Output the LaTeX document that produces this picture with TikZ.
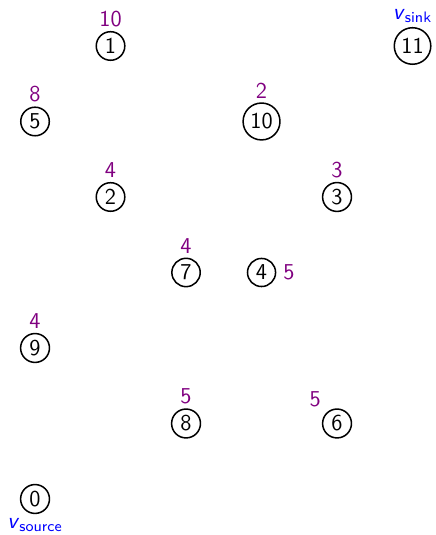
\documentclass[tikz,border=0pt]{standalone}
\renewcommand{\familydefault}{\sfdefault}
\usetikzlibrary{positioning}
\tikzset{
  vtx/.style={circle,draw,thick,inner sep=1.8pt,font=\large},
  wt/.style={text=violet,font=\large,inner sep=2pt},
  term/.style={text=blue,font=\large,inner sep=2pt}
}
\newcommand{\vname}[1]{\textit{v}\textsubscript{#1}}

\begin{document}
\begin{tikzpicture}[x=1.4cm,y=1.4cm]
  \useasboundingbox (-0.464,0.609) rectangle (5.305,-6.477);
  % top rows
  \node[vtx,label={[wt]above:10}] (n1) at (1,0) {1};
  \node[vtx,label={[term]above:\vname{sink}}] (n11) at (5,0) {11};
  \node[vtx,label={[wt]above:8}] (n5) at (0,-1) {5};
  \node[vtx,label={[wt]above:2}] (n10) at (3,-1) {10};
  \node[vtx,label={[wt]above:4}] (n2) at (1,-2) {2};
  \node[vtx,label={[wt]above:3}] (n3) at (4,-2) {3};
  % middle
  \node[vtx,label={[wt,label distance=1.5pt]right:5}] (n4) at (3,-3) {4};
  \node[vtx,label={[wt]above:4}] (n7) at (2,-3) {7};
  \node[vtx,label={[wt]above:4}] (n9) at (0,-4) {9};
  % bottom
  \node[vtx,label={[wt]above:5}] (n8) at (2,-5) {8};
  \node[vtx,label={[wt,label distance=1pt]above left:5}] (n6) at (4,-5) {6};
  \node[vtx,label={[term]below:\vname{source}}] (n0) at (0,-6) {0};
\end{tikzpicture}
\end{document}
